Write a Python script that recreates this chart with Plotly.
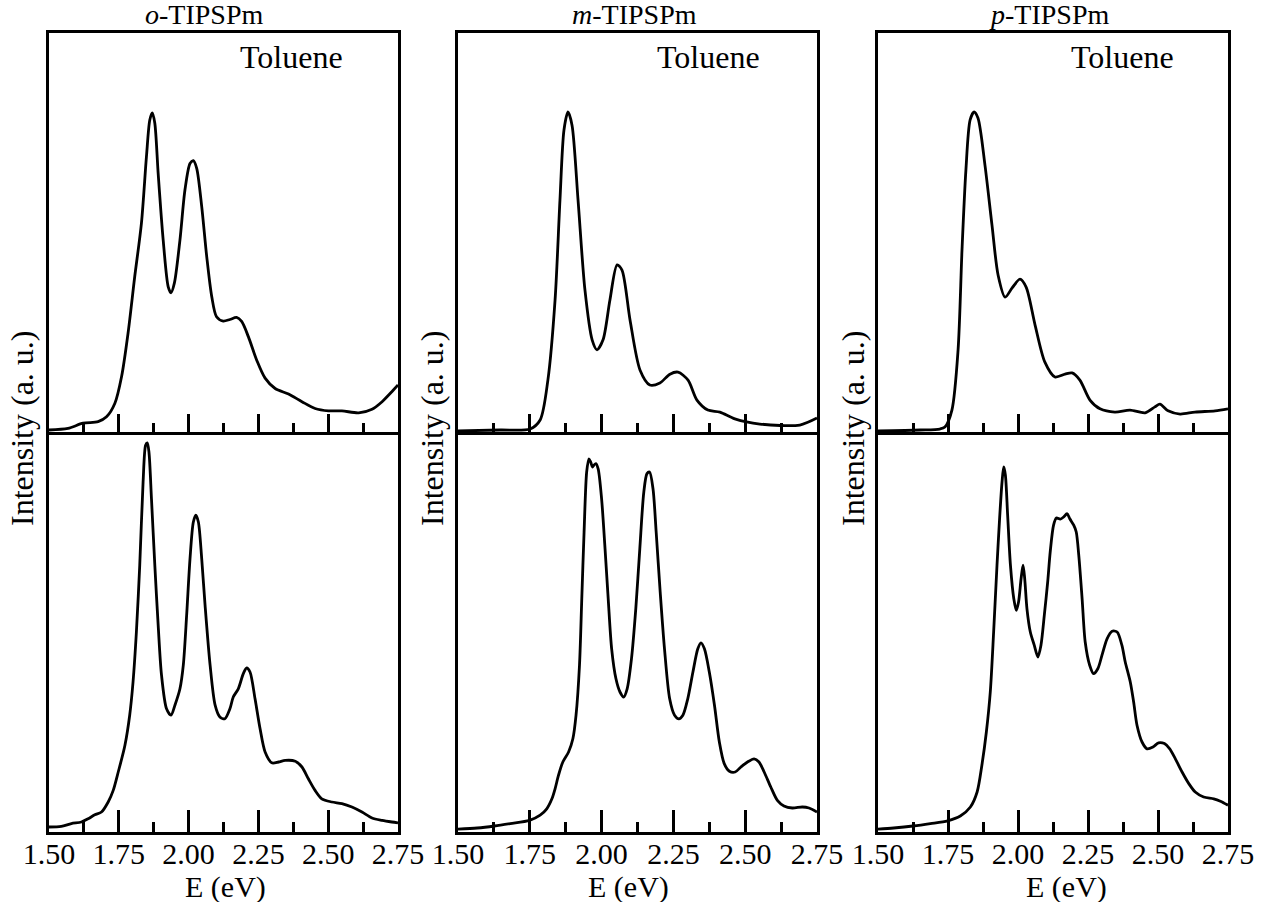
import plotly.graph_objects as go

# ---------------- data (E in eV, normalized intensity) ----------------
titles = ["<i>o</i>-TIPSPm", "<i>m</i>-TIPSPm", "<i>p</i>-TIPSPm"]
solvent_label = "Toluene"
tick_vals = [1.50, 1.75, 2.00, 2.25, 2.50, 2.75]

o_tol_E = [1.5, 1.568, 1.622, 1.676, 1.706, 1.736, 1.760, 1.783, 1.807, 1.831, 1.849, 1.861, 1.870,
           1.879, 1.891, 1.909, 1.927, 1.937, 1.949, 1.969, 1.987, 2.005, 2.017, 2.029, 2.047, 2.065,
           2.083, 2.100, 2.124, 2.148, 2.172, 2.190, 2.214, 2.244, 2.274, 2.310, 2.358, 2.406, 2.453,
           2.501, 2.549, 2.609, 2.657, 2.693, 2.728, 2.75]
o_tol_I = [0.005, 0.009, 0.022, 0.026, 0.038, 0.072, 0.139, 0.247, 0.389, 0.523, 0.690, 0.782, 0.800,
           0.774, 0.648, 0.481, 0.364, 0.349, 0.373, 0.481, 0.607, 0.673, 0.680, 0.661, 0.565, 0.439,
           0.339, 0.289, 0.278, 0.282, 0.287, 0.277, 0.239, 0.180, 0.135, 0.109, 0.095, 0.076, 0.059,
           0.053, 0.053, 0.048, 0.057, 0.076, 0.101, 0.118]

m_tol_E = [1.5, 1.646, 1.751, 1.786, 1.813, 1.838, 1.855, 1.869, 1.883, 1.897, 1.918, 1.942, 1.967,
           1.984, 2.005, 2.029, 2.054, 2.071, 2.099, 2.134, 2.168, 2.203, 2.238, 2.266, 2.301, 2.332,
           2.370, 2.412, 2.464, 2.551, 2.690, 2.75]
m_tol_I = [0.0025, 0.005, 0.0075, 0.03, 0.13, 0.331, 0.581, 0.757, 0.802, 0.769, 0.581, 0.356, 0.231,
           0.206, 0.231, 0.331, 0.419, 0.406, 0.281, 0.155, 0.118, 0.123, 0.145, 0.150, 0.130, 0.080,
           0.055, 0.050, 0.033, 0.020, 0.0175, 0.035]

p_tol_E = [1.5, 1.65, 1.721, 1.739, 1.764, 1.786, 1.8, 1.814, 1.829, 1.843, 1.857, 1.882, 1.907, 1.929,
           1.954, 1.979, 2.007, 2.029, 2.061, 2.096, 2.132, 2.168, 2.193, 2.221, 2.257, 2.293, 2.346,
           2.4, 2.454, 2.489, 2.507, 2.536, 2.579, 2.632, 2.704, 2.75]
p_tol_I = [0.0025, 0.005, 0.0075, 0.0125, 0.055, 0.206, 0.456, 0.657, 0.782, 0.802, 0.787, 0.669, 0.519,
           0.393, 0.338, 0.361, 0.383, 0.363, 0.268, 0.175, 0.138, 0.145, 0.148, 0.130, 0.080, 0.058,
           0.050, 0.055, 0.048, 0.063, 0.070, 0.053, 0.045, 0.050, 0.053, 0.058]

o_2_E = [1.5, 1.544, 1.580, 1.616, 1.640, 1.664, 1.688, 1.712, 1.730, 1.748, 1.772, 1.789, 1.801, 1.813,
         1.825, 1.837, 1.846, 1.852, 1.858, 1.867, 1.879, 1.891, 1.903, 1.921, 1.937, 1.951, 1.969,
         1.981, 1.993, 2.005, 2.017, 2.026, 2.035, 2.047, 2.059, 2.077, 2.095, 2.112, 2.130, 2.148,
         2.160, 2.178, 2.196, 2.208, 2.220, 2.238, 2.256, 2.274, 2.298, 2.322, 2.346, 2.382, 2.406,
         2.429, 2.453, 2.477, 2.513, 2.549, 2.585, 2.621, 2.657, 2.693, 2.728, 2.75]
o_2_I = [0.0125, 0.014, 0.021, 0.025, 0.033, 0.043, 0.05, 0.075, 0.104, 0.15, 0.217, 0.292, 0.375, 0.5,
         0.667, 0.875, 0.967, 0.973, 0.95, 0.833, 0.667, 0.517, 0.392, 0.308, 0.292, 0.317, 0.358,
         0.417, 0.542, 0.683, 0.775, 0.792, 0.775, 0.683, 0.567, 0.417, 0.317, 0.2875, 0.283, 0.308,
         0.3375, 0.358, 0.396, 0.41, 0.4, 0.333, 0.258, 0.2, 0.173, 0.175, 0.179, 0.177, 0.1625,
         0.133, 0.104, 0.083, 0.075, 0.071, 0.0625, 0.05, 0.035, 0.029, 0.025, 0.023]

m_2_E = [1.5, 1.567, 1.627, 1.682, 1.749, 1.786, 1.809, 1.827, 1.838, 1.850, 1.865, 1.885, 1.900, 1.911,
         1.923, 1.931, 1.939, 1.948, 1.956, 1.962, 1.968, 1.973, 1.980, 1.988, 2.000, 2.012, 2.023,
         2.035, 2.050, 2.064, 2.077, 2.089, 2.104, 2.119, 2.133, 2.147, 2.158, 2.167, 2.179, 2.190,
         2.204, 2.219, 2.237, 2.254, 2.269, 2.283, 2.300, 2.318, 2.335, 2.346, 2.358, 2.375, 2.393,
         2.410, 2.427, 2.445, 2.465, 2.485, 2.508, 2.531, 2.548, 2.566, 2.589, 2.612, 2.635, 2.664,
         2.699, 2.722, 2.75]
m_2_I = [0.007, 0.01, 0.015, 0.021, 0.029, 0.042, 0.058, 0.083, 0.108, 0.142, 0.175, 0.2, 0.233, 0.292,
         0.417, 0.583, 0.75, 0.9, 0.933, 0.925, 0.9125, 0.917, 0.921, 0.908, 0.833, 0.708, 0.583,
         0.458, 0.383, 0.35, 0.3375, 0.358, 0.433, 0.558, 0.708, 0.85, 0.896, 0.9, 0.858, 0.75,
         0.6, 0.458, 0.333, 0.292, 0.283, 0.292, 0.333, 0.4, 0.458, 0.473, 0.458, 0.4, 0.317,
         0.225, 0.171, 0.152, 0.15, 0.1625, 0.175, 0.183, 0.175, 0.15, 0.1125, 0.079, 0.065, 0.06,
         0.0625, 0.06, 0.05]

p_2_E = [1.5, 1.556, 1.625, 1.687, 1.749, 1.794, 1.830, 1.854, 1.871, 1.887, 1.901, 1.913, 1.925, 1.935,
         1.943, 1.949, 1.955, 1.963, 1.973, 1.985, 1.994, 2.002, 2.011, 2.018, 2.024, 2.032, 2.044,
         2.058, 2.071, 2.082, 2.094, 2.106, 2.115, 2.127, 2.137, 2.151, 2.163, 2.175, 2.185, 2.199,
         2.208, 2.217, 2.229, 2.240, 2.256, 2.270, 2.285, 2.300, 2.318, 2.336, 2.354, 2.371, 2.383,
         2.401, 2.413, 2.425, 2.443, 2.461, 2.482, 2.502, 2.523, 2.542, 2.562, 2.586, 2.610, 2.633,
         2.663, 2.699, 2.723, 2.75]
p_2_I = [0.007, 0.01, 0.015, 0.021, 0.028, 0.04, 0.0625, 0.1, 0.167, 0.25, 0.35, 0.5, 0.667, 0.792,
         0.875, 0.9125, 0.892, 0.792, 0.667, 0.583, 0.554, 0.575, 0.633, 0.667, 0.633, 0.558, 0.5,
         0.467, 0.4375, 0.467, 0.542, 0.625, 0.7, 0.767, 0.785, 0.782, 0.7875, 0.796, 0.783, 0.767,
         0.75, 0.692, 0.583, 0.475, 0.417, 0.396, 0.408, 0.442, 0.483, 0.502, 0.5, 0.467, 0.425,
         0.375, 0.325, 0.267, 0.225, 0.208, 0.2125, 0.223, 0.221, 0.208, 0.183, 0.15, 0.121, 0.1,
         0.0875, 0.083, 0.077, 0.067]

top_series = [(o_tol_E, o_tol_I), (m_tol_E, m_tol_I), (p_tol_E, p_tol_I)]
bot_series = [(o_2_E, o_2_I), (m_2_E, m_2_I), (p_2_E, p_2_I)]

# ---------------- layout geometry ----------------
W, H = 1270, 902
col_px = [(49, 398), (458, 817), (878, 1228)]
top_px = (33, 432)
bot_px = (432, 832)
FONT = "Liberation Serif"

def px_x(p):
    return p / W

def px_y(p):
    return (H - p) / H

def xd(a, b):
    return [px_x(a), px_x(b)]

def yd(t, b):
    return [px_y(b), px_y(t)]

fig = go.Figure()
layout = dict(width=W, height=H, margin=dict(l=0, r=0, t=0, b=0, pad=0), autosize=False,
              template="none",
              paper_bgcolor="white", plot_bgcolor="white", showlegend=False,
              font=dict(family=FONT, color="black"))

ax = 1
annotations = []
for c in range(3):
    for r, (series, ypx) in enumerate([(top_series, top_px), (bot_series, bot_px)]):
        xs, ys = series[c]
        xname = "x" if ax == 1 else f"x{ax}"
        yname = "y" if ax == 1 else f"y{ax}"
        fig.add_trace(go.Scatter(x=xs, y=ys, mode="lines", xaxis=xname, yaxis=yname,
                                 line=dict(color="black", width=2.8, shape="spline", smoothing=0.8),
                                 hoverinfo="skip"))
        is_bot = (r == 1)
        layout[f"xaxis{ax}"] = dict(
            domain=xd(*col_px[c]), range=[1.5, 2.75], anchor=yname, automargin=False,
            showline=True, linecolor="black", linewidth=3, mirror=(not is_bot),
            showgrid=False, zeroline=False,
            tickmode="array", tickvals=tick_vals,
            ticktext=[f"{v:.2f}" for v in tick_vals],
            showticklabels=is_bot, ticklabelstandoff=-7,
            ticks="inside", ticklen=22 if is_bot else 18, tickwidth=2.5, tickcolor="black",
            tickfont=dict(family=FONT, size=30, color="black"),
            minor=dict(dtick=0.125, tick0=1.5, ticks="inside", ticklen=10 if is_bot else 9,
                       tickwidth=2.5, tickcolor="black", showgrid=False),
        )
        layout[f"yaxis{ax}"] = dict(
            domain=yd(*ypx), range=[0, 1], anchor=xname, automargin=False,
            showline=True, linecolor="black", linewidth=3, mirror=True,
            showgrid=False, zeroline=False, showticklabels=False, ticks="",
        )
        ax += 1

title_x = [204, 634, 1049]
toluene_x = [291, 708, 1122]
ylab_x = [22, 432, 853]
etitle_x = [225, 628, 1066]
for c in range(3):
    annotations.append(dict(text=titles[c], x=px_x(title_x[c]), y=px_y(15), xref="paper", yref="paper",
                            showarrow=False, font=dict(family=FONT, size=28, color="black"),
                            xanchor="center", yanchor="middle"))
    annotations.append(dict(text=solvent_label, x=px_x(toluene_x[c]), y=px_y(57), xref="paper",
                            yref="paper", showarrow=False, font=dict(family=FONT, size=32, color="black"),
                            xanchor="center", yanchor="middle"))
    annotations.append(dict(text="Intensity (a. u.)", x=px_x(ylab_x[c]), y=px_y(428), xref="paper",
                            yref="paper", showarrow=False, textangle=-90,
                            font=dict(family=FONT, size=32, color="black"),
                            xanchor="center", yanchor="middle"))
    annotations.append(dict(text="E (eV)", x=px_x(etitle_x[c]), y=px_y(887), xref="paper",
                            yref="paper", showarrow=False, font=dict(family=FONT, size=30, color="black"),
                            xanchor="center", yanchor="middle"))
layout["annotations"] = annotations
fig.update_layout(**layout)
fig.write_html("out.html", config={"responsive": False, "displayModeBar": False},
               post_script="document.body.style.margin='0px';document.body.style.overflow='hidden';")
